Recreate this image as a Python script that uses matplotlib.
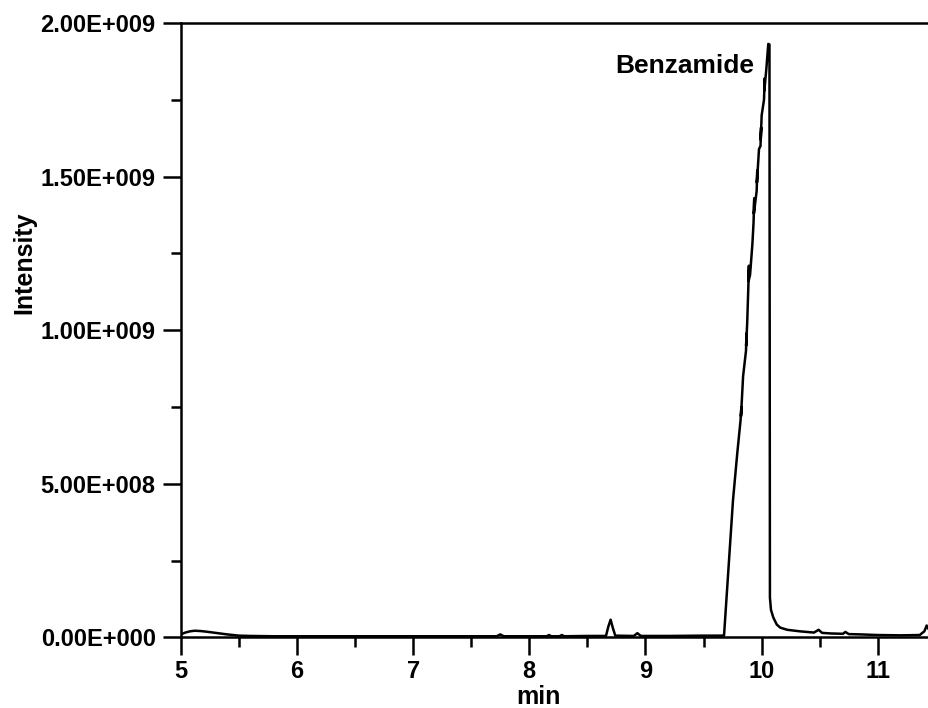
import matplotlib.pyplot as plt
from matplotlib.ticker import MultipleLocator, FuncFormatter

plt.rcParams['font.family'] = ['Liberation Sans', 'DejaVu Sans']
plt.rcParams['font.weight'] = 'bold'

# chromatogram (time in min, intensity)
time = [5.00, 5.04, 5.08, 5.12, 5.17, 5.22, 5.30, 5.40, 5.50, 5.60, 5.80,
        6.00, 6.50, 7.00, 7.50, 7.72, 7.75, 7.78, 8.00, 8.15, 8.17, 8.19,
        8.26, 8.28, 8.30, 8.50, 8.66, 8.68, 8.70, 8.72, 8.74, 8.90, 8.93,
        8.96, 9.20, 9.50, 9.67,
        9.676, 9.71, 9.753, 9.79, 9.818, 9.825, 9.822, 9.84, 9.865, 9.870, 9.866,
        9.875, 9.885, 9.890, 9.887, 9.90,
        9.92, 9.93, 9.936, 9.933, 9.957, 9.962, 9.959, 9.977, 9.99, 9.995, 9.992,
        10.00, 10.02, 10.026, 10.023, 10.04, 10.057,
        10.067, 10.069, 10.071, 10.08, 10.10, 10.13, 10.16, 10.22, 10.33,
        10.45, 10.49, 10.52, 10.60, 10.70, 10.72, 10.75, 10.85, 11.00,
        11.20, 11.36, 11.40, 11.42, 11.44]
intensity = [1.0e7, 1.6e7, 2.0e7, 2.2e7, 2.1e7, 1.9e7, 1.5e7, 1.0e7, 6e6, 5e6, 4e6,
             4e6, 4e6, 4e6, 4e6, 4e6, 1.0e7, 4e6, 4e6, 4e6, 8e6, 4e6,
             4e6, 8e6, 4e6, 5e6, 5e6, 3.5e7, 5.8e7, 3.0e7, 6e6, 5e6, 1.4e7,
             5e6, 5e6, 6e6, 6e6,
             6e6, 2.0e8, 4.46e8, 6.0e8, 7.06e8, 7.5e8, 7.2e8, 8.5e8, 9.33e8, 9.9e8, 9.5e8,
             1.02e9, 1.138e9, 1.21e9, 1.16e9, 1.18e9,
             1.28e9, 1.35e9, 1.43e9, 1.38e9, 1.454e9, 1.52e9, 1.48e9, 1.59e9, 1.60e9, 1.66e9, 1.62e9,
             1.70e9, 1.75e9, 1.82e9, 1.78e9, 1.85e9, 1.932e9,
             1.93e9, 1.0e9, 1.3e8, 9.0e7, 6.5e7, 4.2e7, 3.2e7, 2.5e7, 2.0e7,
             1.6e7, 2.5e7, 1.5e7, 1.3e7, 1.2e7, 1.8e7, 1.1e7, 1.0e7, 8e6,
             7e6, 8e6, 2.0e7, 3.9e7, 2.5e7]

label_text = 'Benzamide'
label_x = 8.737
label_y = 1.837e9


def sci_label(v, pos):
    if v == 0:
        return '0.00E+000'
    if v >= 1e9:
        return '{:.2f}E+009'.format(v / 1e9)
    return '{:.2f}E+008'.format(v / 1e8)


fig = plt.figure(figsize=(9.29, 7.08), dpi=100)
ax = fig.add_axes([0.1945, 0.0996, 0.8055, 0.8679])
ax.plot(time, intensity, color='black', lw=1.8)

ax.set_xlim(5, 11.44)
ax.set_ylim(0, 2.0e9)
ax.xaxis.set_major_locator(MultipleLocator(1))
ax.xaxis.set_minor_locator(MultipleLocator(0.5))
ax.yaxis.set_major_locator(MultipleLocator(5e8))
ax.yaxis.set_minor_locator(MultipleLocator(2.5e8))
ax.yaxis.set_major_formatter(FuncFormatter(sci_label))

ax.tick_params(which='major', direction='out', length=13, width=1.8, labelsize=17, pad=5)
ax.tick_params(axis='x', which='major', pad=3)
ax.tick_params(which='minor', direction='out', length=7, width=1.8)
for s in ['left', 'bottom', 'top']:
    ax.spines[s].set_linewidth(1.8)
ax.spines['right'].set_visible(False)

for lab in ax.get_xticklabels() + ax.get_yticklabels():
    lab.set_fontweight('bold')

ax.set_xlabel('min', fontsize=18, fontweight='bold')
ax.set_ylabel('Intensity', fontsize=18, fontweight='bold')
ax.xaxis.set_label_coords(0.4775, -0.077)
ax.yaxis.set_label_coords(-0.193, 0.61)
ax.text(label_x, label_y, label_text, fontsize=19, fontweight='bold', va='baseline')

fig.savefig('out.png', dpi=100)
